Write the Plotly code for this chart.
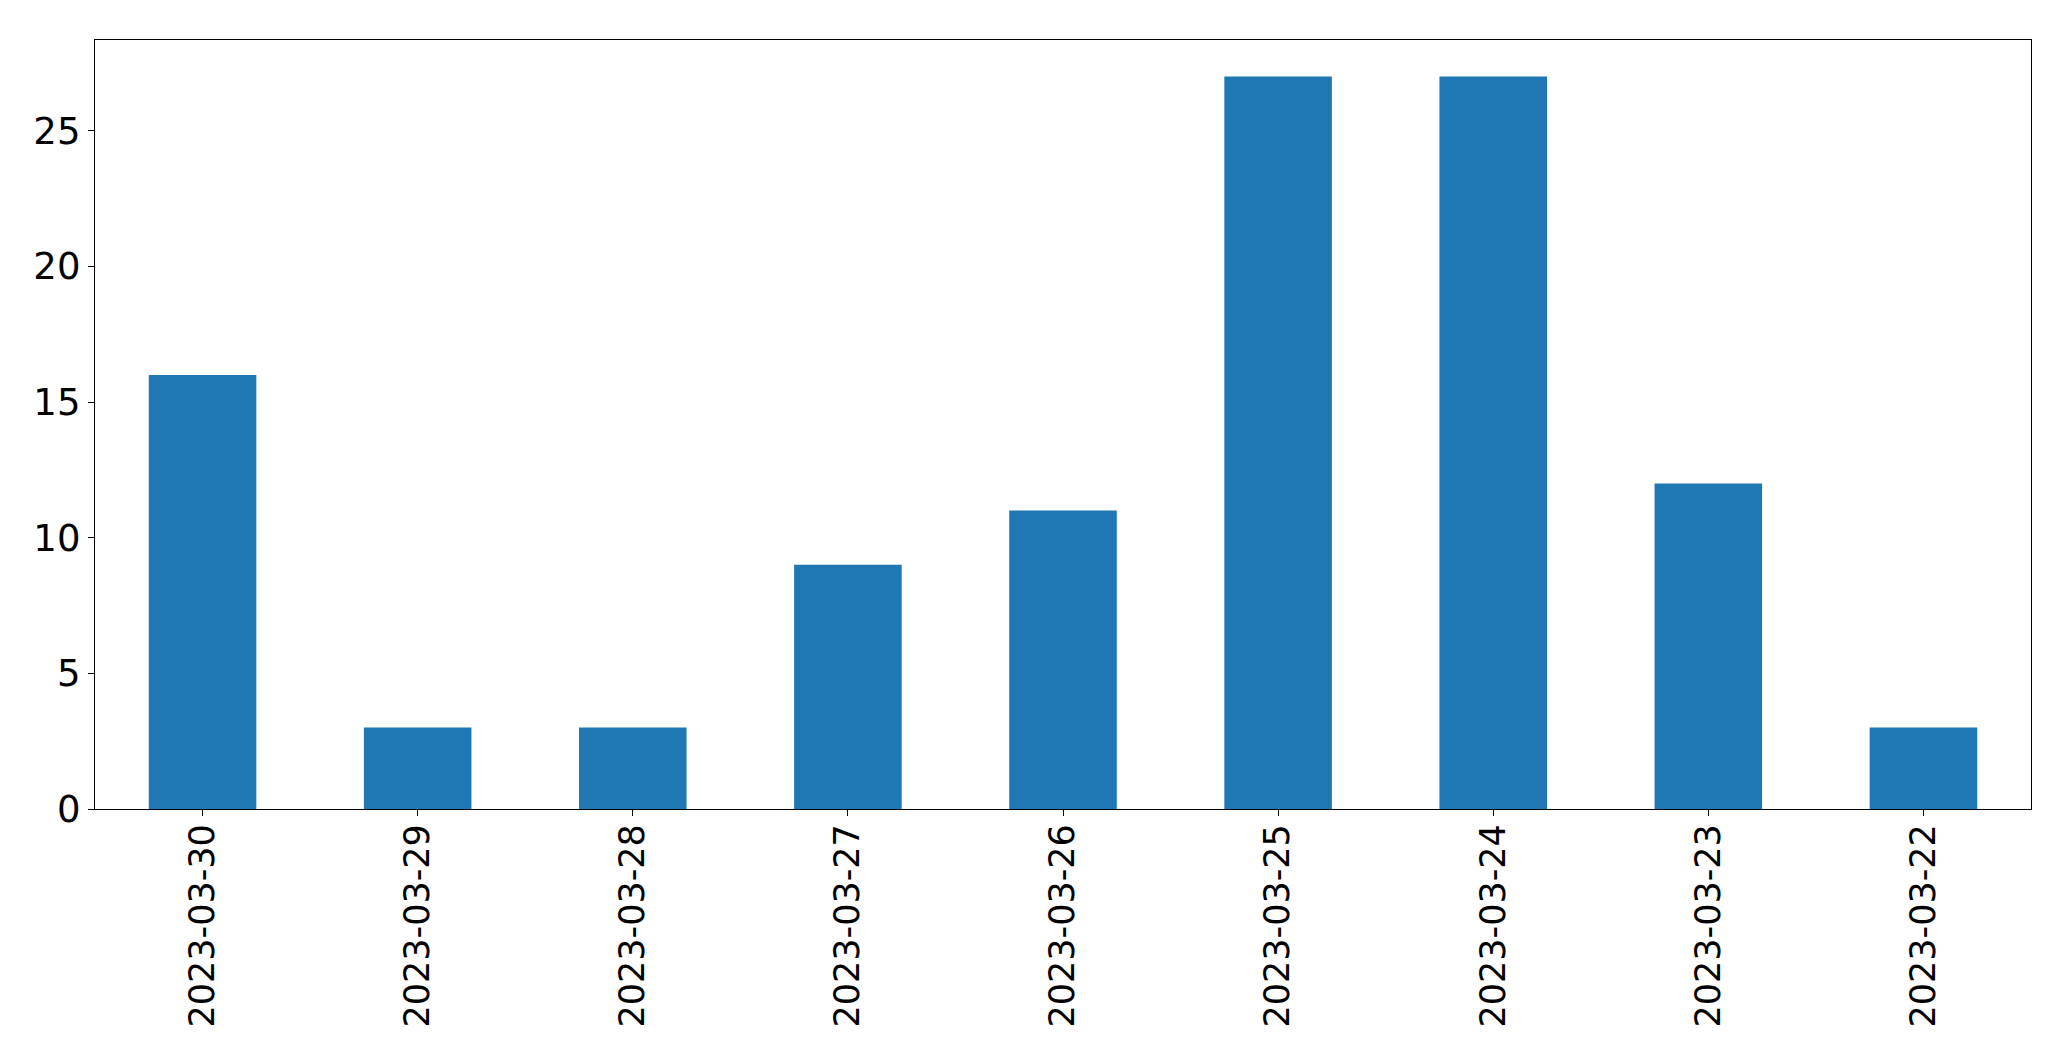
import plotly.graph_objects as go

dates = ["2023-03-30", "2023-03-29", "2023-03-28", "2023-03-27", "2023-03-26",
         "2023-03-25", "2023-03-24", "2023-03-23", "2023-03-22"]
counts = [16, 3, 3, 9, 11, 27, 27, 12, 3]
y_ticks = [0, 5, 10, 15, 20, 25]

fig = go.Figure(go.Bar(x=dates, y=counts, marker=dict(color="#1f77b4", line=dict(width=0)),
                       width=0.5))

axis_common = dict(showline=True, linecolor="black", linewidth=1.3, mirror=True,
                   showgrid=False, zeroline=False, ticks="outside", ticklen=6,
                   tickcolor="black", tickwidth=1.3)

fig.update_layout(
    width=2063, height=1053,
    margin=dict(l=87, r=40, t=32, b=252, autoexpand=False),
    paper_bgcolor="white", plot_bgcolor="white",
    showlegend=False,
    xaxis=dict(type="category", range=[-0.5, 8.5], tickangle=-90,
               ticklabelstandoff=-6,
               tickfont=dict(family="DejaVu Sans", size=35, color="black"),
               **axis_common),
    yaxis=dict(range=[0, 28.35], tickvals=y_ticks,
               tickfont=dict(family="DejaVu Sans", size=37, color="black"),
               **axis_common),
)

fig.write_html("out.html")
